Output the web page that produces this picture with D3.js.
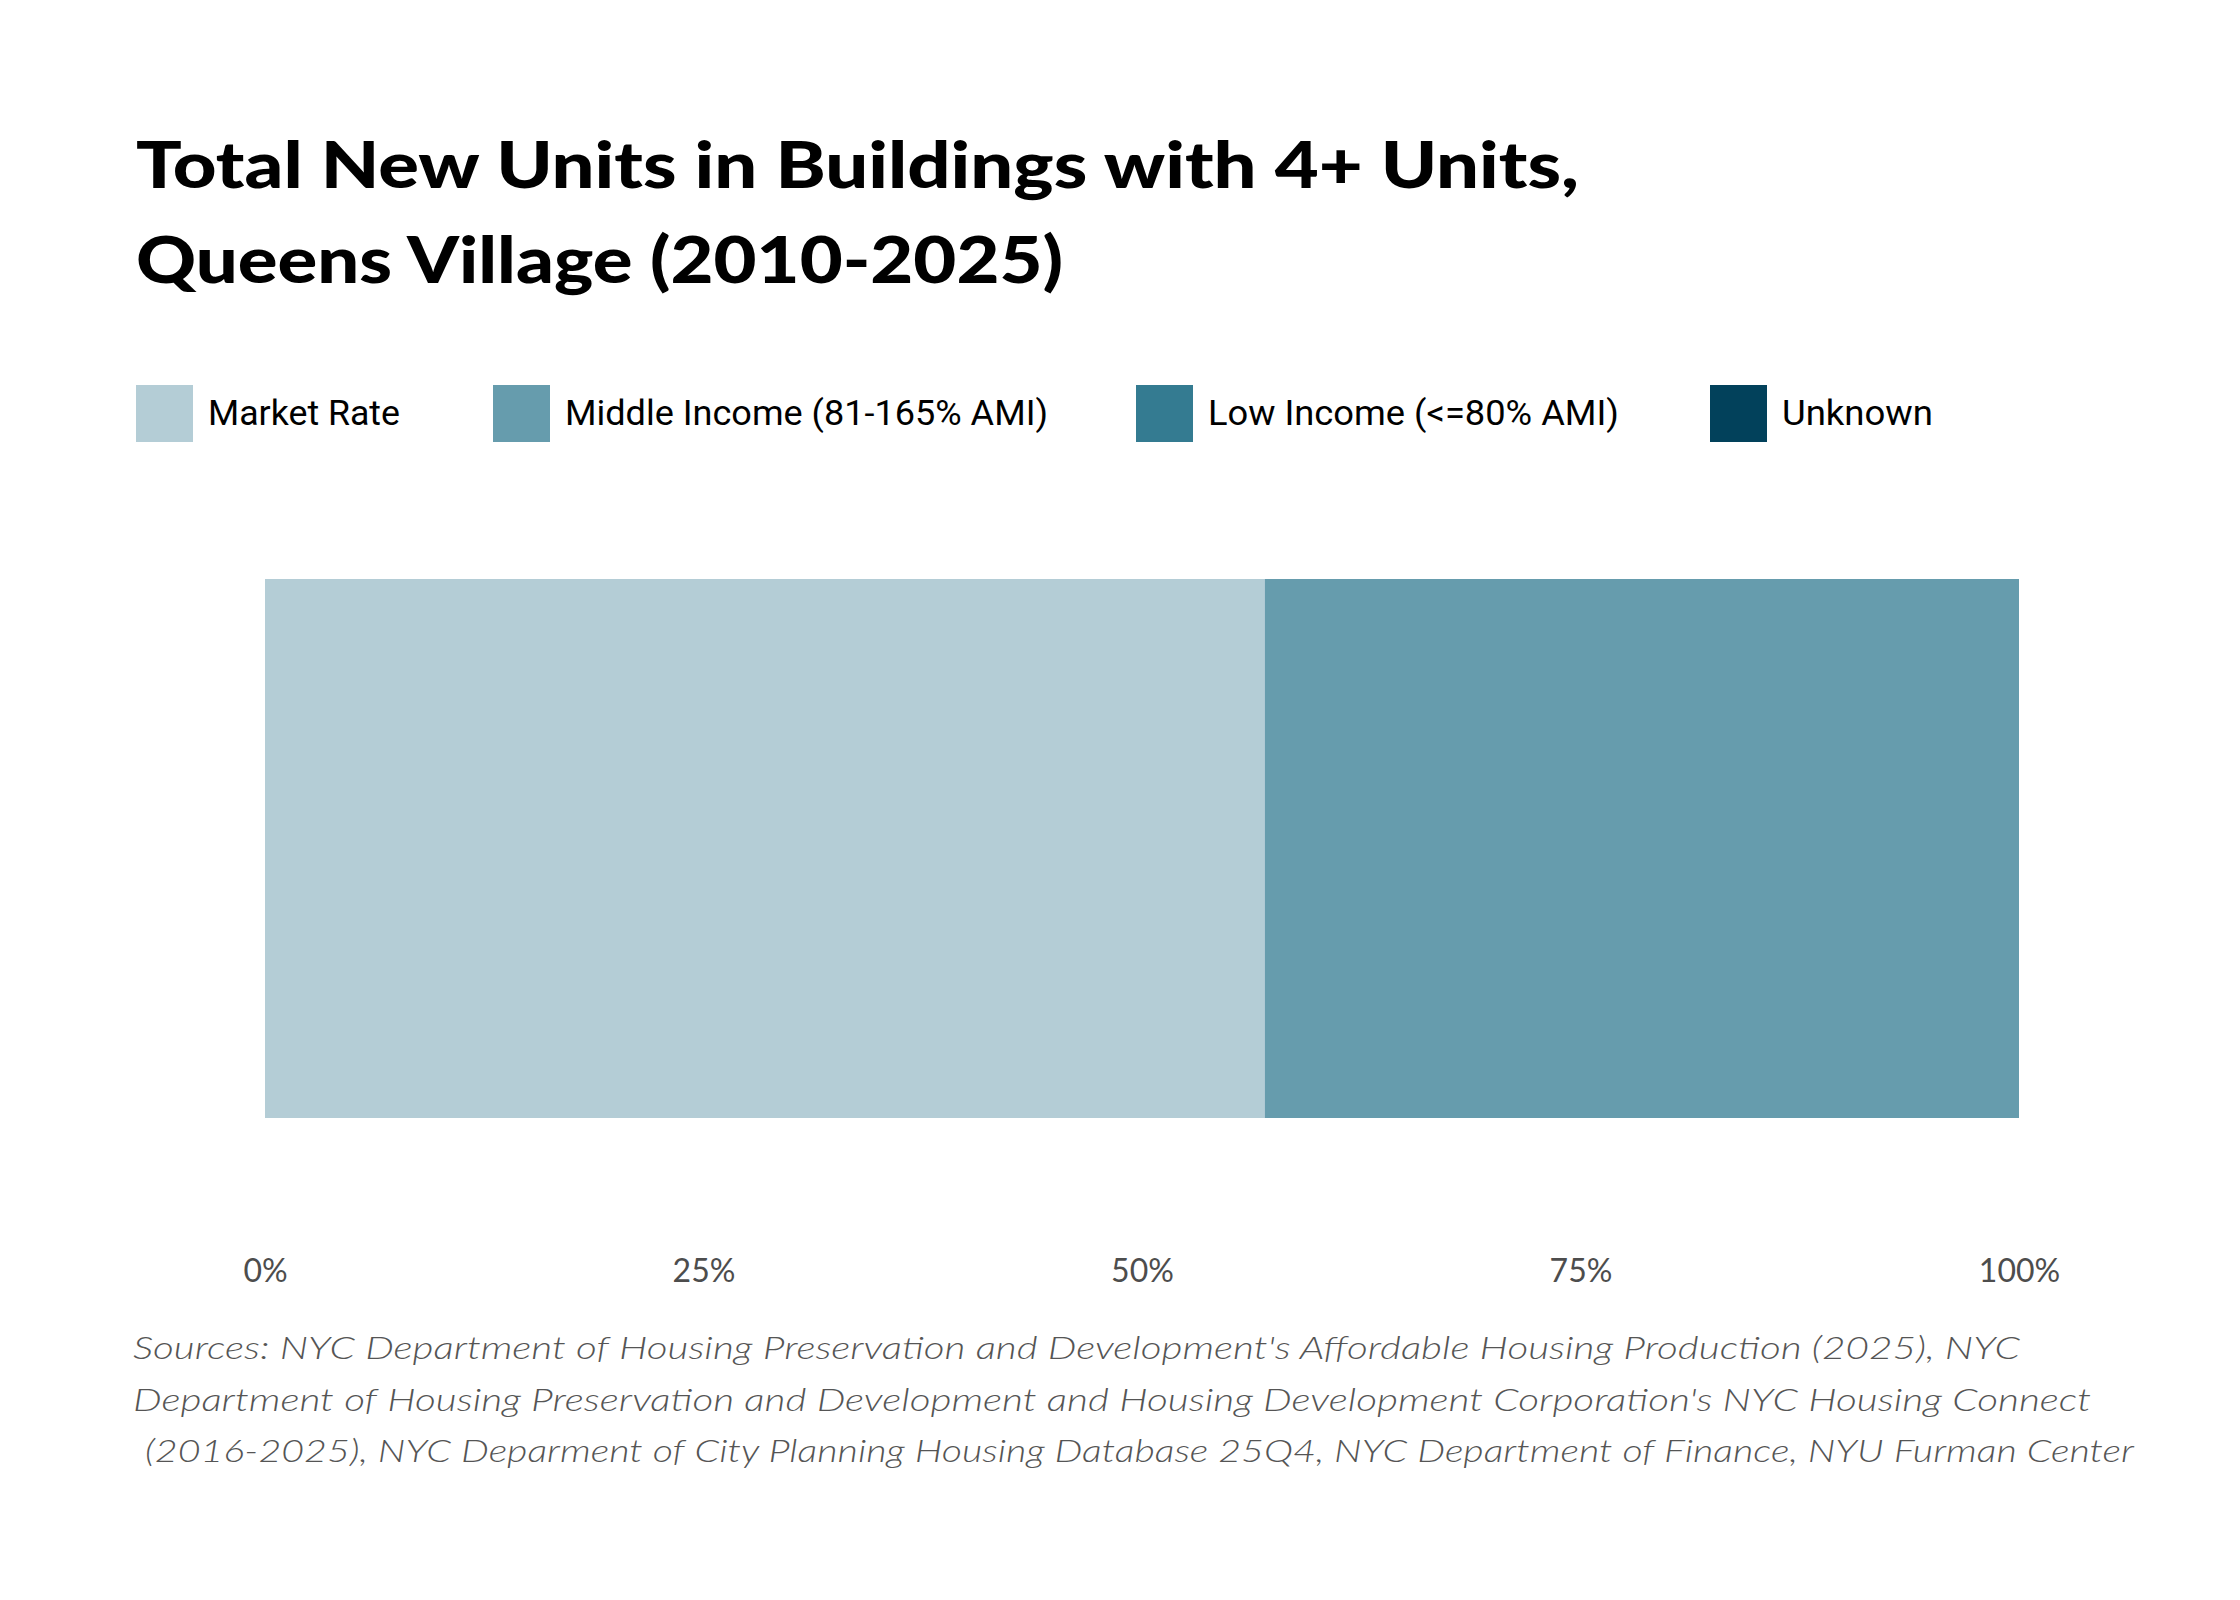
<!DOCTYPE html>
<html>
<head>
<meta charset="utf-8">
<script src="https://cdn.jsdelivr.net/npm/d3@7"></script>
<style>
  body { margin: 0; background: #fff; }
  svg { display: block; }
</style>
</head>
<body>
<div id="chart"></div>
<script>
// data
const titleLines = ['Total New Units in Buildings with 4+ Units,', 'Queens Village (2010-2025)'];
const categories = ['Queens Village'];
const seriesNames = ['Market Rate', 'Middle Income (81-165% AMI)', 'Low Income (<=80% AMI)', 'Unknown'];
const seriesShares = [0.570, 0.430, 0, 0];
const seriesColors = ['#b4cdd6', '#669cad', '#347b91', '#02415b'];
const tickValues = [0, 0.25, 0.5, 0.75, 1];
const sourceLines = [
    'Sources: NYC Department of Housing Preservation and Development\'s Affordable Housing Production (2025), NYC',
    'Department of Housing Preservation and Development and Housing Development Corporation\'s NYC Housing Connect',
    ' (2016-2025), NYC Deparment of City Planning Housing Database 25Q4, NYC Department of Finance, NYU Furman Center'
];

const width = 2240;
const height = 1600;

const svg = d3.select('#chart')
    .append('svg')
    .attr('width', width)
    .attr('height', height);

svg.append('rect')
    .attr('width', width)
    .attr('height', height)
    .attr('fill', '#fff');

// squeeze or stretch a text so it spans the same width as in the picture
function fitWidth(sel, target) {
    sel.each(function () {
        const w = this.getComputedTextLength();
        if (Math.abs(w - target) > 2) {
            d3.select(this)
                .attr('textLength', target)
                .attr('lengthAdjust', 'spacingAndGlyphs');
        }
    });
}

// title
const titleWidths = [1443, 927];
svg.append('g')
    .selectAll('text')
    .data(titleLines)
    .enter().append('text')
    .attr('x', 136)
    .attr('y', (d, i) => 188 + i * 95)
    .style('font-family', 'Lato, sans-serif')
    .style('font-weight', 900)
    .style('font-size', '65px')
    .attr('fill', '#000')
    .text(d => d)
    .each(function (d, i) { fitWidth(d3.select(this), titleWidths[i]); });

// legend
const legendX = [136, 493, 1136, 1710];
const legendTextW = [192, 483, 411, 151];
const legend = svg.append('g')
    .selectAll('g')
    .data(seriesNames)
    .enter().append('g')
    .attr('transform', (d, i) => `translate(${legendX[i]},385)`);

legend.append('rect')
    .attr('width', 57)
    .attr('height', 57)
    .attr('fill', (d, i) => seriesColors[i]);

legend.append('text')
    .attr('x', 72)
    .attr('y', 40)
    .style('font-family', 'Roboto, sans-serif')
    .style('font-size', '35px')
    .attr('fill', '#000')
    .text(d => d)
    .each(function (d, i) { fitWidth(d3.select(this), legendTextW[i]); });

// bar
const xScale = d3.scaleLinear()
    .domain([0, 1])
    .range([265, 2019]);

const yScale = d3.scaleBand()
    .domain(categories)
    .range([579, 1118])
    .padding(0);

const row = { category: categories[0] };
seriesNames.forEach((s, i) => { row[s] = seriesShares[i]; });

const stacked = d3.stack().keys(seriesNames)([row]);

svg.append('g')
    .selectAll('rect')
    .data(stacked)
    .enter().append('rect')
    .attr('fill', (d, i) => seriesColors[i])
    .attr('x', d => xScale(d[0][0]))
    .attr('width', d => xScale(d[0][1]) - xScale(d[0][0]))
    .attr('y', d => yScale(d[0].data.category))
    .attr('height', yScale.bandwidth());

// x axis, labels only
const xAxis = svg.append('g')
    .attr('transform', 'translate(0,1282)')
    .call(d3.axisBottom(xScale)
        .tickValues(tickValues)
        .tickFormat(d3.format('.0%'))
        .tickSize(0));

xAxis.select('.domain').remove();
xAxis.selectAll('text')
    .attr('y', 0)
    .attr('dy', 0)
    .style('font-family', 'Lato, sans-serif')
    .style('font-size', '32px')
    .attr('fill', '#4d4d4d');

// sources
const sourceWidths = [1887, 1958, 1989];
svg.append('g')
    .selectAll('text')
    .data(sourceLines)
    .enter().append('text')
    .attr('x', (d, i) => i === 2 ? 145 : 133)
    .attr('y', (d, i) => 1359 + i * 51.5)
    .style('font-family', 'Lato, sans-serif')
    .style('font-style', 'italic')
    .style('font-weight', 300)
    .style('font-size', '32px')
    .attr('fill', '#555')
    .text(d => d.trim())
    .each(function (d, i) { fitWidth(d3.select(this), sourceWidths[i]); });
</script>
</body>
</html>
